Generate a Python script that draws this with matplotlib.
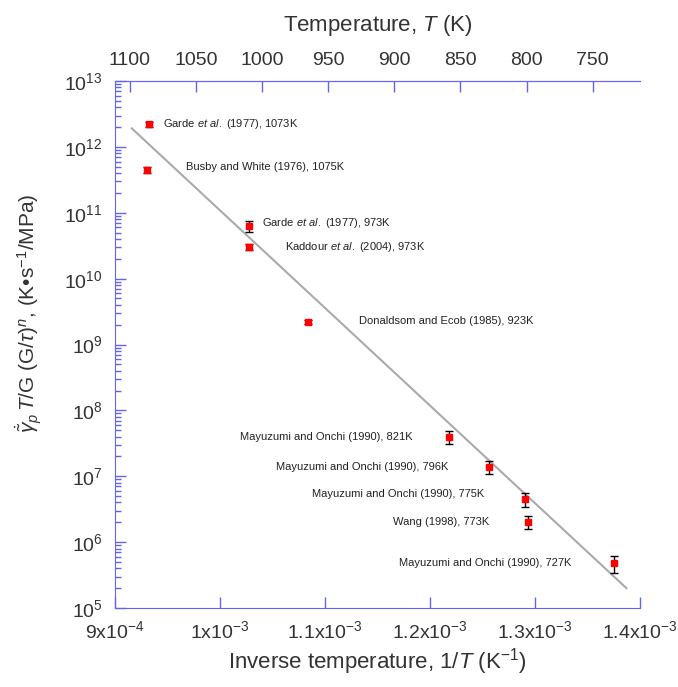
import numpy as np
import matplotlib
matplotlib.use("Agg")
import matplotlib.pyplot as plt
from matplotlib.ticker import FixedLocator, FixedFormatter, LogLocator, NullFormatter

plt.rcParams['font.family'] = ['Liberation Sans', 'DejaVu Sans']
plt.rcParams['mathtext.fontset'] = 'custom'
plt.rcParams['mathtext.rm'] = 'Liberation Sans'
plt.rcParams['mathtext.it'] = 'Liberation Sans:italic'
plt.rcParams['mathtext.bf'] = 'Liberation Sans:bold'

# test temperatures (K) and normalised creep rates
temps = np.array([1073, 1075, 973, 973, 923, 821, 796, 775, 773, 727])
rate = np.array([2.2e12, 4.5e11, 6.3e10, 3.05e10, 2.2e9, 4.0e7, 1.4e7, 4.5e6, 2.05e6, 4.8e5])
rate_err = np.array([0.08, 0.12, 0.18, 0.10, 0.08, 0.22, 0.22, 0.25, 0.22, 0.28]) * rate
labels = ['Garde $\\it{et\\ al.}$ (1977), 1073K',
          'Busby and White (1976), 1075K',
          'Garde $\\it{et\\ al.}$ (1977), 973K',
          'Kaddour $\\it{et\\ al.}$ (2004), 973K',
          'Donaldsom and Ecob (1985), 923K',
          'Mayuzumi and Onchi (1990), 821K',
          'Mayuzumi and Onchi (1990), 796K',
          'Mayuzumi and Onchi (1990), 775K',
          'Wang (1998), 773K',
          'Mayuzumi and Onchi (1990), 727K']
# label offsets in pixels from the point
label_dx = [14, 39, 13, 36, 51, -36, -41, -41, -39, -43]
label_dy = [0, 3, 3, 0, 1, 0, 0, 5, 0, 0]

# Arrhenius fit: log10(rate) = fit_a + fit_b / T
fit_a = 25.857
fit_b = -14820.0
fit_range = [9.16e-4, 1.387e-3]

xticks = [9e-4, 1e-3, 1.1e-3, 1.2e-3, 1.3e-3, 1.4e-3]
xtick_labels = ['9x10$^{-4}$', '1x10$^{-3}$', '1.1x10$^{-3}$', '1.2x10$^{-3}$',
                '1.3x10$^{-3}$', '1.4x10$^{-3}$']
top_ticks = [1100, 1050, 1000, 950, 900, 850, 800, 750]

axis_col = '#6464f0'
text_col = '#333333'

fig = plt.figure(figsize=(6.78, 6.87), dpi=100)
ax = fig.add_axes([0.1696, 0.115, 0.7744, 0.767])

inv_t = 1.0 / temps
ax.errorbar(inv_t, rate, yerr=rate_err, fmt='s', color='red', markersize=5,
            markeredgecolor='red', ecolor='black', elinewidth=1, capsize=3,
            capthick=1, zorder=3)

xf = np.linspace(fit_range[0], fit_range[1], 50)
ax.plot(xf, 10 ** (fit_a + fit_b * xf), color='#aaaaaa', lw=1.5, zorder=2)

for x, y, s, dx, dy in zip(inv_t, rate, labels, label_dx, label_dy):
    ax.annotate(s, (x, y), xytext=(dx, dy), textcoords='offset pixels',
                ha='left' if dx > 0 else 'right', va='center',
                fontsize=8, color='#222222')

ax.set_yscale('log')
ax.set_xlim(9e-4, 1.4e-3)
ax.set_ylim(1e5, 1e13)
ax.xaxis.set_major_locator(FixedLocator(xticks))
ax.xaxis.set_major_formatter(FixedFormatter(xtick_labels))
ax.yaxis.set_major_locator(LogLocator(base=10, numticks=20))
ax.yaxis.set_minor_locator(LogLocator(base=10, subs=np.arange(2, 10), numticks=20))
ax.yaxis.set_minor_formatter(NullFormatter())

for side in ['left', 'bottom', 'top']:
    ax.spines[side].set_color(axis_col)
ax.spines['right'].set_visible(False)
ax.tick_params(axis='both', which='major', direction='in', length=8, width=1,
               color=axis_col, labelsize=14, labelcolor=text_col, pad=9)
ax.tick_params(axis='y', which='minor', direction='in', length=4, width=1,
               color=axis_col)
ax.tick_params(axis='x', which='both', top=False)

ax.set_xlabel('Inverse temperature, 1/$T$ (K$^{-1}$)', fontsize=16,
              color=text_col, labelpad=3)
ax.set_ylabel(r'$\dot{\tilde{\gamma}}_p\,T$/G (G/$\tau$)$^n$, (K•s$^{-1}$/MPa)',
              fontsize=15, color=text_col, labelpad=2)
ax.yaxis.set_label_coords(-0.135, 0.56)

# temperature scale along the top
top = ax.twiny()
top.set_xlim(1 / 9e-4, 1 / 1.4e-3)
top.xaxis.set_major_locator(FixedLocator(top_ticks))
top.tick_params(axis='x', direction='in', length=8, width=1, color=axis_col,
                labelsize=14, labelcolor=text_col, pad=9)
for side in ['left', 'bottom', 'right']:
    top.spines[side].set_visible(False)
top.spines['top'].set_color(axis_col)
top.set_xlabel('Temperature, $T$ (K)', fontsize=16, color=text_col, labelpad=15)

fig.savefig('out.png', dpi=100)
